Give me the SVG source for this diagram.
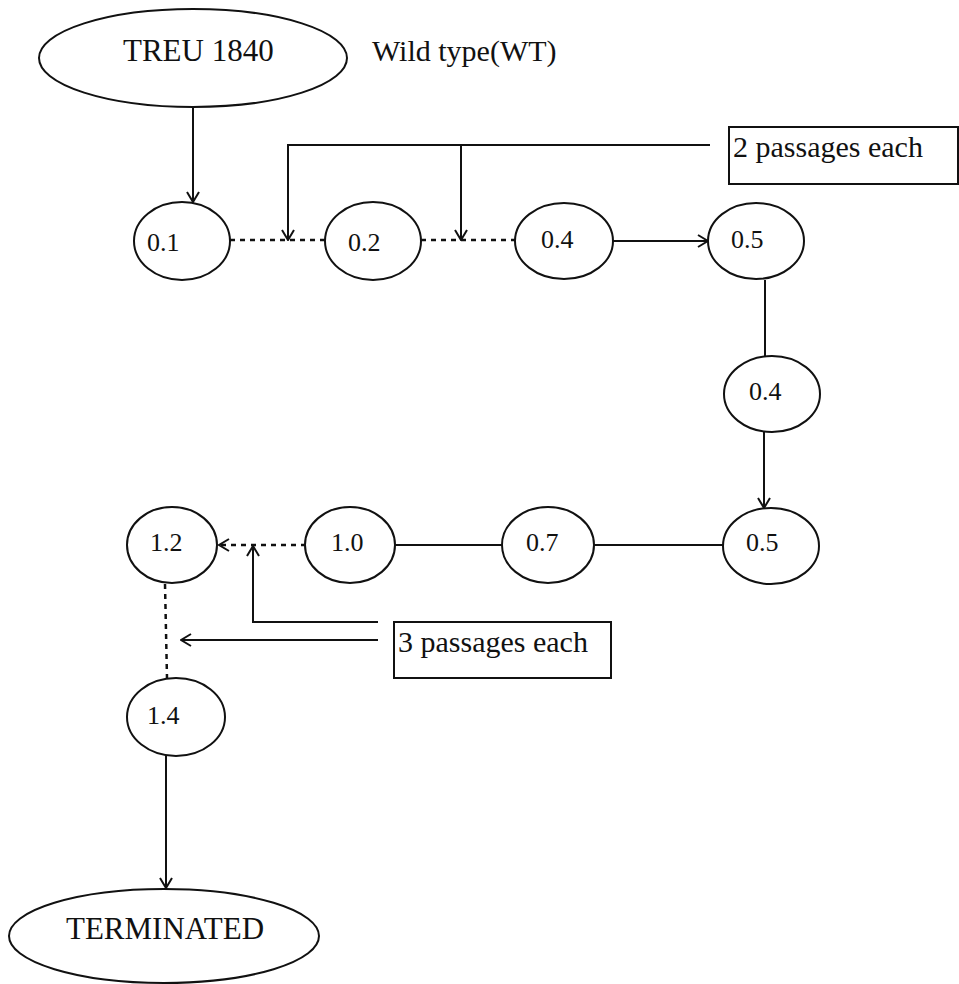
<svg xmlns="http://www.w3.org/2000/svg" width="959" height="984" viewBox="0 0 959 984">
<style>
.n{fill:none;stroke:#111;stroke-width:2}
.t{font-family:"Liberation Serif","Times New Roman",serif;fill:#111}
.s{font-size:26px}
.c{fill:none;stroke:#111;stroke-width:2}
.d{fill:none;stroke:#111;stroke-width:2.5;stroke-dasharray:5 5}
</style>
<defs>
<marker id="ah" markerWidth="12" markerHeight="14" refX="11" refY="7" orient="auto" markerUnits="userSpaceOnUse">
<path d="M1,1 L11,7 L1,13" fill="none" stroke="#111" stroke-width="2"/>
</marker>
</defs>
<rect width="959" height="984" fill="#fff"/>
<g id="connectors">
<line class="c" x1="193" y1="107" x2="193" y2="202" marker-end="url(#ah)"/>
<line class="d" x1="230" y1="240" x2="325" y2="240"/>
<line class="d" x1="421" y1="240" x2="515" y2="240"/>
<polyline class="c" points="710,145 288,145 288,240" marker-end="url(#ah)"/>
<line class="c" x1="461" y1="145" x2="461" y2="240" marker-end="url(#ah)"/>
<line class="c" x1="613" y1="241" x2="708" y2="241" marker-end="url(#ah)"/>
<line class="c" x1="765" y1="280" x2="765" y2="356"/>
<line class="c" x1="764" y1="432" x2="764" y2="508" marker-end="url(#ah)"/>
<line class="c" x1="593" y1="545" x2="723" y2="545"/>
<line class="c" x1="395" y1="545" x2="502" y2="545"/>
<line class="d" x1="306" y1="545" x2="219" y2="545"/>
<path d="M229,539 L219,545 L229,551" fill="none" stroke="#111" stroke-width="2"/>
<polyline class="c" points="378,622 253,622 253,546" marker-end="url(#ah)"/>
<line class="c" x1="378" y1="640" x2="181" y2="640" marker-end="url(#ah)"/>
<line class="d" x1="165" y1="584" x2="167" y2="678"/>
<line class="c" x1="166" y1="756" x2="166" y2="888" marker-end="url(#ah)"/>
</g>
<g id="treu">
<ellipse class="n" cx="193" cy="58" rx="154" ry="49"/>
<text class="t" x="123" y="61" font-size="31">TREU 1840</text>
</g>
<g id="wt-label">
<text class="t" x="372" y="61" font-size="30">Wild type(WT)</text>
</g>
<g id="n01">
<ellipse class="n" cx="182" cy="241" rx="48" ry="39"/>
<text class="t s" x="147" y="251">0.1</text>
</g>
<g id="n02">
<ellipse class="n" cx="373" cy="241" rx="48" ry="39"/>
<text class="t s" x="348" y="251">0.2</text>
</g>
<g id="n04a">
<ellipse class="n" cx="564" cy="241" rx="49" ry="38"/>
<text class="t s" x="541" y="248">0.4</text>
</g>
<g id="n05a">
<ellipse class="n" cx="756" cy="241" rx="48" ry="38"/>
<text class="t s" x="731" y="248">0.5</text>
</g>
<g id="box2">
<rect class="n" x="729" y="127" width="229" height="57"/>
<text class="t" x="733" y="157" font-size="30">2 passages each</text>
</g>
<g id="n04b">
<ellipse class="n" cx="772" cy="394" rx="48" ry="38"/>
<text class="t s" x="749" y="400">0.4</text>
</g>
<g id="n05b">
<ellipse class="n" cx="771" cy="546" rx="48" ry="38"/>
<text class="t s" x="746" y="551">0.5</text>
</g>
<g id="n07">
<ellipse class="n" cx="548" cy="545" rx="46" ry="38"/>
<text class="t s" x="526" y="551">0.7</text>
</g>
<g id="n10">
<ellipse class="n" cx="350" cy="545" rx="45" ry="38"/>
<text class="t s" x="331" y="551">1.0</text>
</g>
<g id="n12">
<ellipse class="n" cx="172" cy="545" rx="45" ry="38"/>
<text class="t s" x="150" y="551">1.2</text>
</g>
<g id="box3">
<rect class="n" x="394" y="622" width="217" height="56"/>
<text class="t" x="398" y="652" font-size="30">3 passages each</text>
</g>
<g id="n14">
<ellipse class="n" cx="176" cy="717" rx="49" ry="39"/>
<text class="t s" x="147" y="724">1.4</text>
</g>
<g id="terminated">
<ellipse class="n" cx="164" cy="936" rx="155" ry="47"/>
<text class="t" x="66" y="939" font-size="31">TERMINATED</text>
</g>
</svg>
